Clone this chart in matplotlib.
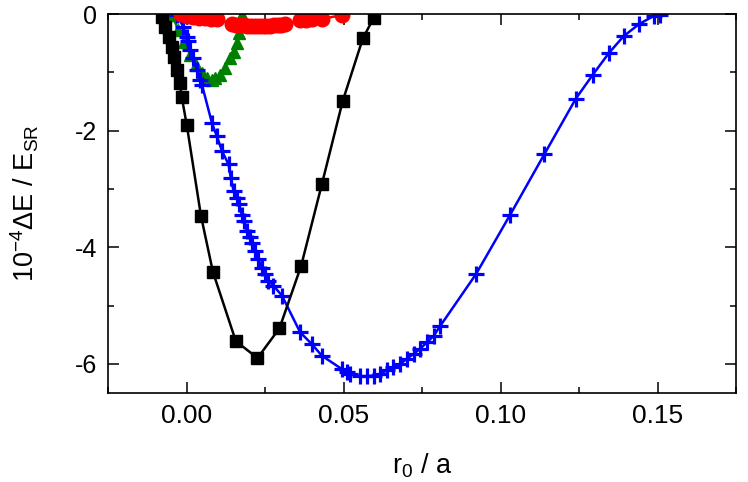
import matplotlib
matplotlib.use("Agg")
import matplotlib.pyplot as plt
from matplotlib.ticker import MultipleLocator, FormatStrFormatter

plt.rcParams['font.family'] = ['Liberation Sans', 'DejaVu Sans']
plt.rcParams['mathtext.default'] = 'regular'
plt.rcParams['axes.unicode_minus'] = False

# black squares
sq_x = [-0.0078, -0.0068, -0.0057, -0.0046, -0.0041, -0.0031, -0.0022, -0.0015,
        0.0001, 0.0046, 0.0084, 0.0157, 0.0226, 0.0296, 0.0365, 0.0431, 0.0497,
        0.0562, 0.0596]
sq_y = [-0.05, -0.22, -0.39, -0.56, -0.73, -0.96, -1.18, -1.43,
        -1.91, -3.46, -4.42, -5.61, -5.90, -5.39, -4.32, -2.92, -1.50,
        -0.41, -0.07]

# blue crosses
cr_x = [-0.0031, -0.0010, 0.0001, 0.0006, 0.0012, 0.0022, 0.0033, 0.0044, 0.0049,
        0.0081, 0.0097, 0.0113, 0.0134, 0.0141, 0.0150, 0.0161, 0.0166, 0.0176,
        0.0182, 0.0192, 0.0203, 0.0208, 0.0219, 0.0229, 0.0240, 0.0250, 0.0261,
        0.0277, 0.0304, 0.0362, 0.0399, 0.0431, 0.0495, 0.0511, 0.0521, 0.0553,
        0.0575, 0.0596, 0.0617, 0.0638, 0.0659, 0.0681, 0.0702, 0.0723, 0.0744,
        0.0766, 0.0787, 0.0808, 0.0922, 0.1031, 0.1140, 0.1240, 0.1294, 0.1345,
        0.1392, 0.1442, 0.1489, 0.1508]
cr_y = [-0.02, -0.22, -0.39, -0.47, -0.62, -0.76, -0.96, -1.13, -1.21,
        -1.87, -2.10, -2.35, -2.58, -2.81, -3.04, -3.15, -3.26, -3.44,
        -3.55, -3.72, -3.83, -3.92, -4.06, -4.21, -4.35, -4.46, -4.58,
        -4.66, -4.83, -5.46, -5.66, -5.86, -6.09, -6.14, -6.17, -6.21,
        -6.21, -6.20, -6.17, -6.11, -6.06, -6.00, -5.91, -5.83, -5.74,
        -5.63, -5.52, -5.35, -4.46, -3.44, -2.40, -1.45, -1.04, -0.67,
        -0.38, -0.17, -0.03, -0.02]

# green triangles
tr_x = [-0.0046, -0.0026, -0.0007, 0.0012, 0.0031, 0.0050, 0.0066, 0.0081,
        0.0091, 0.0107, 0.0123, 0.0139, 0.0150, 0.0161, 0.0166, 0.0176]
tr_y = [-0.02, -0.27, -0.48, -0.70, -0.87, -1.01, -1.09, -1.13,
        -1.10, -1.04, -0.92, -0.76, -0.65, -0.50, -0.33, -0.02]

# red circles
ci_x = [-0.0017, 0.0002, 0.0021, 0.0040, 0.0060, 0.0079, 0.0098,
        0.0146, 0.0158, 0.0170, 0.0182, 0.0194, 0.0206, 0.0218, 0.0230,
        0.0242, 0.0254, 0.0266, 0.0278, 0.0290, 0.0302, 0.0314,
        0.0362, 0.0381, 0.0400, 0.0432, 0.0495]
ci_y = [0.00, -0.03, -0.05, -0.06, -0.07, -0.08, -0.09,
        -0.17, -0.18, -0.19, -0.19, -0.20, -0.20, -0.20, -0.20,
        -0.20, -0.20, -0.20, -0.19, -0.19, -0.18, -0.17,
        -0.11, -0.10, -0.09, -0.08, -0.02]

fig = plt.figure(figsize=(7.48, 4.82), dpi=100)
ax = fig.add_axes([0.1444, 0.1846, 0.8396, 0.7863])

ax.plot(tr_x, tr_y, color='green', marker='^', ms=8.5, lw=1.8)
ax.plot(cr_x, cr_y, color='blue', marker='+', ms=12, mew=2.3, lw=1.8)
ax.plot(sq_x, sq_y, color='black', marker='s', ms=9, lw=1.8)
ax.plot(ci_x, ci_y, color='red', marker='o', ms=10.5, lw=1.8)

ax.set_xlim(-0.025, 0.175)
ax.set_ylim(-6.5, 0)
ax.xaxis.set_major_locator(MultipleLocator(0.05))
ax.xaxis.set_minor_locator(MultipleLocator(0.025))
ax.xaxis.set_major_formatter(FormatStrFormatter('%.2f'))
ax.yaxis.set_major_locator(MultipleLocator(2))
ax.yaxis.set_minor_locator(MultipleLocator(1))
ax.yaxis.set_major_formatter(FormatStrFormatter('%d'))

ax.tick_params(which='both', direction='in', top=True, right=True, width=1.1)
ax.tick_params(which='major', length=8)
ax.tick_params(which='minor', length=4)
ax.tick_params(axis='x', labelsize=19, pad=8)
ax.tick_params(axis='y', labelsize=18, pad=8)
for s in ax.spines.values():
    s.set_linewidth(1.2)

ax.set_xlabel('r$_0$ / a', fontsize=19.5, labelpad=17)
ax.set_ylabel('10$^{-4}$ΔE / E$_{SR}$', fontsize=19.5, labelpad=24)

fig.savefig('out.png', dpi=100)
